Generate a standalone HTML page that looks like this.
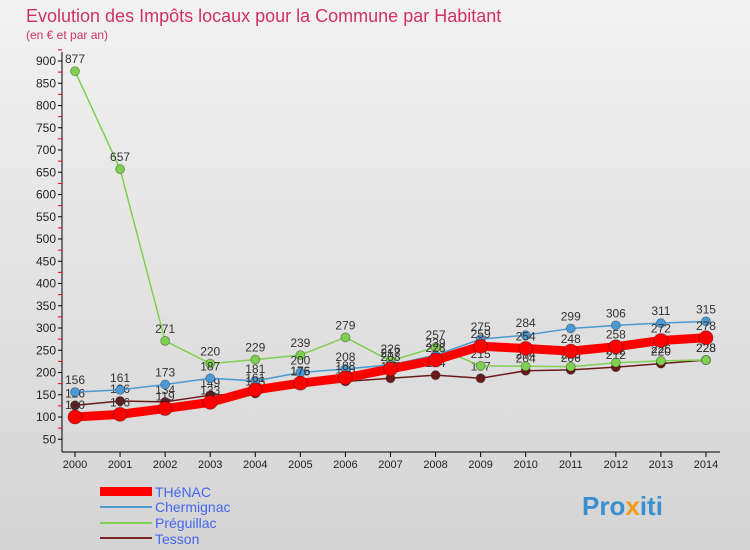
<!DOCTYPE html>
<html><head><meta charset="utf-8"><style>
body{margin:0;width:750px;height:550px;overflow:hidden;font-family:"Liberation Sans",sans-serif}
#bg{position:absolute;left:0;top:0;width:750px;height:550px;background:linear-gradient(#f2f2f2,#d4d4d4)}
</style></head><body>
<div id="bg"></div>
<svg id="c" width="750" height="550" style="position:absolute;left:0;top:0">
<text x="26" y="22" font-size="18" fill="#d0306a">Evolution des Impôts locaux pour la Commune par Habitant</text>
<text x="26" y="39" font-size="12" fill="#d0306a">(en € et par an)</text>
<g id="axes"></g><g id="series"></g>
<g>
<rect x="100" y="487" width="52" height="9" fill="#f00"/>
<text x="155" y="497" font-size="14" fill="#4466ee">THéNAC</text>
<line x1="100" y1="507" x2="152" y2="507" stroke="#4a9ad6" stroke-width="2"/>
<text x="155" y="512" font-size="14" fill="#4466ee">Chermignac</text>
<line x1="100" y1="523" x2="152" y2="523" stroke="#7fd04f" stroke-width="2"/>
<text x="155" y="528" font-size="14" fill="#4466ee">Préguillac</text>
<line x1="100" y1="538" x2="152" y2="538" stroke="#7a2525" stroke-width="2"/>
<text x="155" y="544" font-size="14" fill="#4466ee">Tesson</text>
</g>
<text x="582" y="515" font-size="26" font-weight="bold" fill="#3a8fd0">Pro<tspan fill="#f39c12">x</tspan>iti</text>
</svg>
<script>
const years=[2000,2001,2002,2003,2004,2005,2006,2007,2008,2009,2010,2011,2012,2013,2014];
const thenac=[100,106,119,133,161,176,188,208,228,259,254,248,258,272,278];
const chermignac=[156,161,173,187,181,200,208,217,239,275,284,299,306,311,315];
const preguillac=[877,657,271,220,229,239,279,226,257,215,214,213,222,226,228];
const tesson=[126,136,134,149,153,175,180,187,194,187,204,206,212,220,228];
const yTicks=[50,100,150,200,250,300,350,400,450,500,550,600,650,700,750,800,850,900];
const NS="http://www.w3.org/2000/svg";
const X=i=>75+i*45.07, Y=v=>417-(v-100)*0.445;
function mk(t,a,p){const e=document.createElementNS(NS,t);for(const k in a)e.setAttribute(k,a[k]);p.appendChild(e);return e;}
const ax=document.getElementById('axes'), sg=document.getElementById('series');
const ya=mk('line',{x1:62,y1:52,x2:62,y2:452,stroke:'#000'},ax);


const xa=mk('line',{x1:62,y1:452,x2:720,y2:452,stroke:'#000'},ax);


yTicks.forEach(v=>{mk('line',{x1:58,y1:Y(v),x2:62,y2:Y(v),stroke:'#000'},ax);
mk('line',{x1:58,y1:Y(v+25),x2:62,y2:Y(v+25),stroke:'#e00'},ax);
const t=mk('text',{x:56,y:Y(v)+4,'font-size':12,'text-anchor':'end',fill:'#222'},ax);t.textContent=v;

});
years.forEach((y,i)=>{mk('line',{x1:X(i),y1:452,x2:X(i),y2:457,stroke:'#000'},ax);
const t=mk('text',{x:X(i),y:468,'font-size':11,'text-anchor':'middle',fill:'#222'},ax);t.textContent=y;

});
function draw(d,col,w,r,name){const g=mk('g',{},sg);


mk('polyline',{points:d.map((v,i)=>X(i)+','+Y(v)).join(' '),fill:'none',stroke:col,'stroke-width':w},g);
d.forEach((v,i)=>{const c=mk('circle',{cx:X(i),cy:Y(v),r:r,fill:col,stroke:'rgba(0,0,0,0.3)'},g);


const t=mk('text',{x:X(i),y:Y(v)-8,'font-size':12,'text-anchor':'middle',fill:'#333'},g);t.textContent=v;

});}
draw(tesson,'#6b1a1a',1.5,4.5,'tesson');
draw(preguillac,'#7fd04f',1.5,4.5,'preguillac');
draw(chermignac,'#4a9ad6',1.5,4.5,'chermignac');
draw(thenac,'#f00',9,7,'thenac');
</script>
</body></html>
